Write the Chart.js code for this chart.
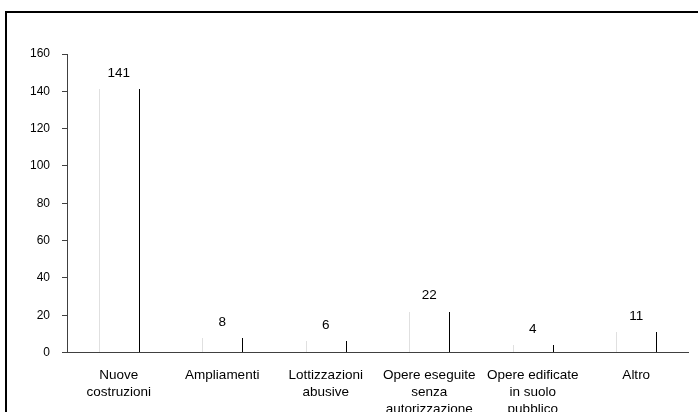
<!DOCTYPE html>
<html>
<head>
<meta charset="utf-8">
<script src="https://cdn.jsdelivr.net/npm/chart.js@4"></script>
<style>
  html, body { margin: 0; padding: 0; background: #fff; overflow: hidden; }
  #wrap { position: relative; width: 698px; height: 412px; overflow: hidden; }
  #frame { position: absolute; left: 5px; top: 11px; width: 720px; height: 450px; border: 2px solid #000; pointer-events: none; }
  canvas { position: absolute; left: 0; top: 0; }
</style>
</head>
<body>
<div id="wrap">
  <canvas id="myChart" width="698" height="432"></canvas>
  <div id="frame"></div>
</div>
<script>
const categories = [
  ["Nuove", "costruzioni"],
  ["Ampliamenti"],
  ["Lottizzazioni", "abusive"],
  ["Opere eseguite", "senza", "autorizzazione"],
  ["Opere edificate", "in suolo", "pubblico"],
  ["Altro"],
];
const values = [141, 8, 6, 22, 4, 11];
const yTicks = [0, 20, 40, 60, 80, 100, 120, 140, 160];

const fontFamily = "'Liberation Sans', Arial, sans-serif";

const ctx = document.getElementById("myChart").getContext("2d");

const barChart = new Chart(ctx, {
  type: "bar",
  data: {
    labels: categories,
    datasets: [
      {
        label: "Casi",
        data: values,
        backgroundColor: "#ffffff",
        borderWidth: 0,
        categoryPercentage: 1,
        barPercentage: 0.39,
      },
    ],
  },
  options: {
    responsive: false,
    animation: false,
    layout: { padding: { left: 0, right: 10, top: 54, bottom: 8 } },
    scales: {
      y: {
        min: yTicks[0],
        max: yTicks[yTicks.length - 1],
        afterBuildTicks: (scale) => {
          scale.ticks = yTicks.map((v) => ({ value: v }));
        },
        afterFit: (scale) => {
          scale.width = 67;
        },
        ticks: {
          color: "#000000",
          padding: 12,
          font: { family: fontFamily, size: 12 },
        },
        grid: {
          drawOnChartArea: false,
          drawTicks: true,
          tickLength: 5,
          color: "#404040",
        },
        border: { display: true, color: "#404040", width: 1 },
      },
      x: {
        ticks: {
          color: "#000000",
          padding: 6,
          maxRotation: 0,
          autoSkip: false,
          font: { family: fontFamily, size: 13.5, lineHeight: 1.27 },
        },
        grid: { display: false },
        border: { display: true, color: "#404040", width: 1 },
      },
    },
    plugins: {
      legend: { display: false },
      tooltip: { enabled: false },
    },
  },
  plugins: [
    {
      id: "barEdges",
      afterDatasetsDraw: function (chart) {
        const ctx = chart.ctx;
        const meta = chart.getDatasetMeta(0);
        ctx.save();
        ctx.lineWidth = 1;
        meta.data.forEach(function (bar, i) {
          const left = Math.round(bar.x - bar.width / 2) + 0.5;
          const right = Math.round(bar.x + bar.width / 2) + 0.5;
          const top = Math.round(bar.y);
          const base = Math.round(bar.base);

          // light left edge
          ctx.strokeStyle = "#e0e0e0";
          ctx.beginPath();
          ctx.moveTo(left, top);
          ctx.lineTo(left, base);
          ctx.stroke();

          // dark right edge
          ctx.strokeStyle = "#000000";
          ctx.beginPath();
          ctx.moveTo(right, top);
          ctx.lineTo(right, base);
          ctx.stroke();

          ctx.font = "13.5px " + fontFamily;
          ctx.fillStyle = "#000000";
          ctx.textAlign = "center";
          ctx.textBaseline = "bottom";
          ctx.fillText(String(values[i]), bar.x, bar.y - 9);
        });
        ctx.restore();
      },
    },
  ],
});
</script>
</body>
</html>
